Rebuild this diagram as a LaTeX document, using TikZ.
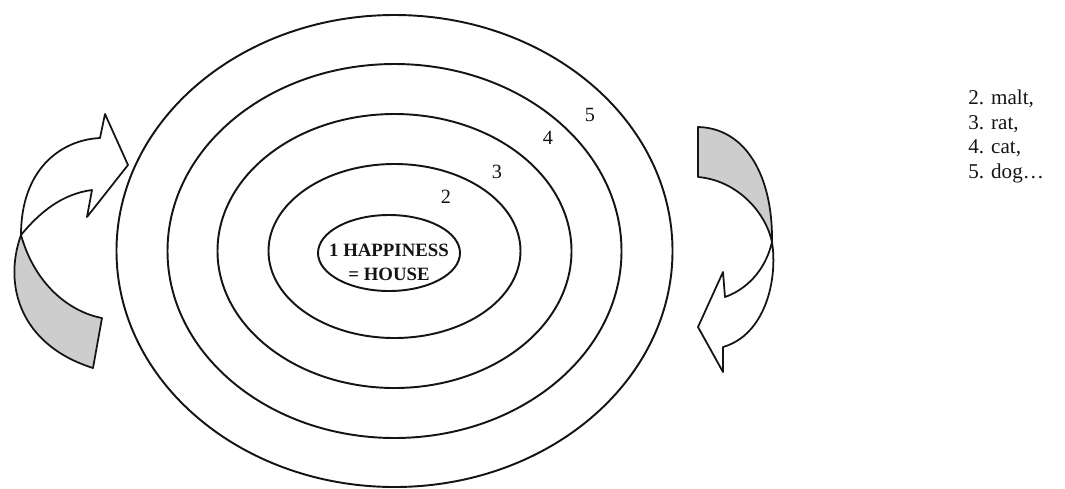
\documentclass[tikz,border=0pt]{standalone}
\usepackage{fontspec}
\setmainfont{Liberation Serif}
\definecolor{cEdge}{RGB}{20,20,20}
\definecolor{cBack}{RGB}{205,205,205}

\begin{document}
\begin{tikzpicture}[
  x=0.02cm, y=-0.02cm, color=cEdge,
  ring/.style    ={draw, line width=1.1pt},
  ribfront/.style={draw, fill=white, line width=1pt, line join=round},
  ribback/.style ={draw, fill=cBack, line width=1pt, line join=round},
  num/.style     ={font=\fontsize{11.5}{13}\selectfont, inner sep=0pt},
]
\useasboundingbox (0,0) rectangle (1065,488);

% rings share one centre; radii step by about 50 px
\coordinate (mid) at (394.5,251);
\draw[ring] (mid) ellipse [x radius=278, y radius=236];
\draw[ring] (mid) ellipse [x radius=227, y radius=187];
\draw[ring] (mid) ellipse [x radius=177, y radius=137];
\draw[ring] (mid) ellipse [x radius=126, y radius=87];
\draw[ring] (389,253) ellipse [x radius=71, y radius=38];

\node[font=\bfseries\fontsize{10.7}{13.5}\selectfont, align=center, inner sep=0pt]
     (core) at (389,262) {1 HAPPINESS\\= HOUSE};

% ----- ring numbers ----------------------------------------------------
\node[num] (nTwo)   at (446,197) {2};
\node[num] (nThree) at (497,172) {3};
\node[num] (nFour)  at (548,138) {4};
\node[num] (nFive)  at (590,115) {5};

% ----- left ribbon: back side below, front rises to the head -----------
\draw[ribback] (21,235) .. controls (3,285) and (20,345) .. (93,368)
  -- (102,318) .. controls (70,312) and (35,285) .. (21,235) -- cycle;
\draw[ribfront] (100,138) .. controls (60,140) and (21,170) .. (21,235)
  .. controls (40,212) and (62,194) .. (92,190)
  -- (87,217) -- (128,165) -- (105,114) -- cycle;

% ----- right ribbon: back side on top, front falls to the head ---------
\draw[ribback] (698,127) .. controls (745,128) and (773,175) .. (772,242)
  .. controls (765,210) and (735,180) .. (698,177) -- cycle;
\draw[ribfront] (772,242) .. controls (778,280) and (765,335) .. (723,347)
  -- (723,372) -- (698,327) -- (723,272) -- (725,297)
  .. controls (745,290) and (765,272) .. (772,242) -- cycle;

% ----- list on the right -----------------------------------------------
\node[anchor=north west, align=left, inner sep=0pt,
      font=\fontsize{12}{13.9}\selectfont]
     (legend) at (968,90) {2. malt,\\3. rat,\\4. cat,\\5. dog…};

\end{tikzpicture}
\end{document}
